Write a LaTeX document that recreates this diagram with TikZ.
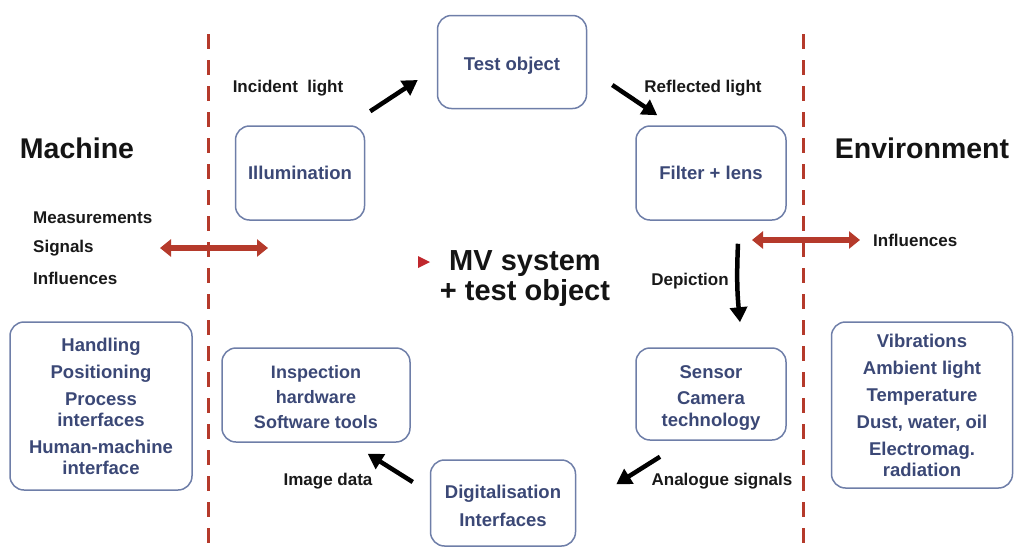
\documentclass[tikz,border=0pt]{standalone}
\usepackage{fontspec}
\setmainfont{Liberation Sans}
\usetikzlibrary{arrows.meta,calc}
\definecolor{boxline}{HTML}{6E7EA8}
\definecolor{boxtext}{HTML}{3B4876}
\definecolor{divider}{HTML}{B53A2B}
\definecolor{marker}{HTML}{C0272D}
% taller first line: pushes a box's text block slightly downwards
\newcommand\firstline{\rule{0pt}{20pt}}
\tikzset{
  stage/.style={draw=boxline, line width=1.5pt, rounded corners=14pt, align=center,
    text=boxtext, font=\fontsize{18.5}{22}\selectfont\bfseries, inner sep=0pt},
  bigstage/.style={stage, font=\fontsize{18.5}{21}\selectfont\bfseries},
  lbl/.style={font=\fontsize{17}{20}\selectfont\bfseries, text=black!90, inner sep=0pt},
  title/.style={font=\fontsize{28.5}{30}\selectfont\bfseries, text=black!92, inner sep=0pt},
  flow/.style={line width=4.5pt, -{Triangle[length=15pt,width=17pt]}},
  exchange/.style={draw=divider, line width=6pt,
    {Triangle[length=11pt,width=17pt]}-{Triangle[length=11pt,width=17pt]}},
  divline/.style={draw=divider, line width=3pt, dash pattern=on 15pt off 11pt},
}
\begin{document}
\begin{tikzpicture}[x=1pt,y=-1pt]
\useasboundingbox (0,0) rectangle (1015,550);

% system boundaries
\draw[divline] (208,34) -- (208,550);
\draw[divline] (803,34) -- (803,550);

% processing chain
\node[stage, minimum width=149, minimum height=93] (test) at (512,62) {\firstline Test object};
\node[stage, minimum width=129, minimum height=94] (illum) at (300,173) {Illumination};
\node[stage, minimum width=150, minimum height=94] (filter) at (711,173) {Filter + lens};
\node[stage, minimum width=150, minimum height=92] (sensor) at (711,394)
  {\firstline Sensor\\[4pt]Camera\\technology};
\node[stage, minimum width=145, minimum height=86] (digit) at (503,503)
  {\firstline Digitalisation\\[6pt]Interfaces};
\node[stage, font=\fontsize{18}{22}\selectfont\bfseries, minimum width=188, minimum height=94] (insp) at (316,395)
  {\rule{0pt}{17pt}Inspection\\[3pt]hardware\\[3pt]Software tools};

% outer boxes
\node[bigstage, minimum width=182, minimum height=168] (mach) at (101,406)
  {Handling\\[6pt]Positioning\\[6pt]Process\\interfaces\\[6pt]Human-machine\\interface};
\node[bigstage, minimum width=181, minimum height=166] (env) at (922,405)
  {Vibrations\\[6pt]Ambient light\\[6pt]Temperature\\[6pt]Dust, water, oil\\[6pt]Electromag.\\radiation};

% headings
\node[title] (machine) at (77,148) {Machine};
\node[title] (environment) at (922,148) {Environment};

% centre label
\node[title, font=\fontsize{29}{30}\selectfont\bfseries, align=center] (mv) at (525,279)
  {MV system\\+ test object};
\fill[marker] (418,256) -- (430,262) -- (418,268) -- cycle;

% interface labels
\node[lbl, anchor=west] (meas) at (33,218) {Measurements};
\node[lbl, anchor=west] (sig) at (33,248) {Signals};
\node[lbl, anchor=west] (infl) at (33,278) {Influences};
\node[lbl, anchor=west] (inflr) at (873,240) {Influences};

% exchange arrows
\coordinate (lx1) at (160,248);
\coordinate (lx2) at (268,248);
\coordinate (rx1) at (752,240);
\coordinate (rx2) at (860,240);
\draw[exchange] (lx1) -- (lx2);
\draw[exchange] (rx1) -- (rx2);

% flow labels
\node[lbl] (incident) at (288,88) {Incident\ \ light};
\node[lbl] (reflected) at (703,88) {Reflected light};
\node[lbl] (depiction) at (690,281) {Depiction};
\node[lbl] (analogue) at (722,481) {Analogue signals};
\node[lbl] (imgdata) at (328,481) {Image data};

% flow arrows
\draw[flow] ($(illum.north east)+(5,-14)$) -- ($(test.west)+(-19,18)$);
\draw[flow] ($(test.east)+(25,23)$) -- ($(filter.north west)+(22,-10)$);
\draw[flow] ($(filter.south)+(27,23)$) to[bend right=4] ($(sensor.north)+(29,-25)$);
\draw[flow] ($(sensor.south)+(-51,16)$) -- ($(digit.north east)+(40,25)$);
\draw[flow] ($(digit.west)+(-17,-21)$) -- ($(insp.south east)+(-43,11)$);
\end{tikzpicture}
\end{document}
